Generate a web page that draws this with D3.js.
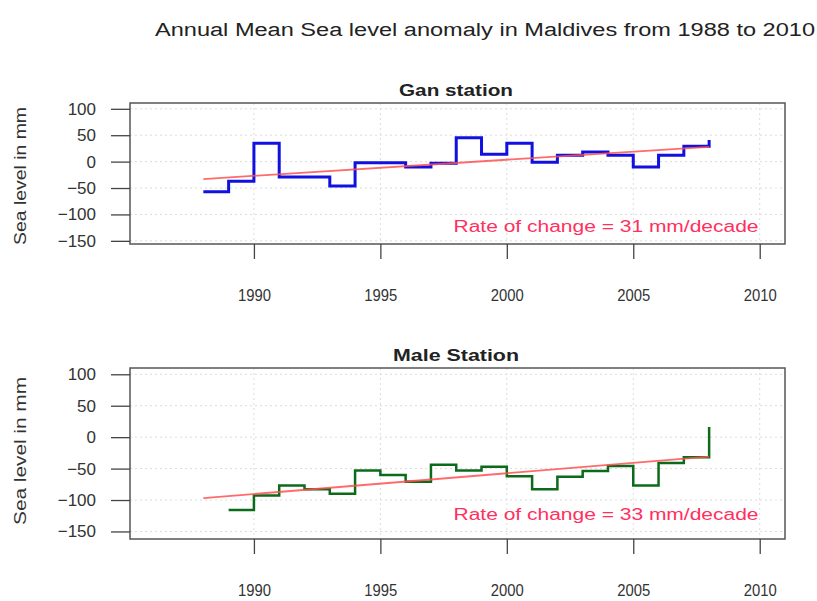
<!DOCTYPE html>
<html><head><meta charset="utf-8">
<script src="https://cdn.jsdelivr.net/npm/d3@7"></script>
<style>body{margin:0;background:#fff;} svg{display:block;font-family:"Liberation Sans",Arial,sans-serif;}</style>
</head><body>
<svg id="c" width="817" height="601"></svg>
<script>
// ---- data ----
const ganYears = [1988,1989,1990,1991,1992,1993,1994,1995,1996,1997,1998,1999,2000,2001,2002,2003,2004,2005,2006,2007,2008];
const ganLevel = [-57,-37,35,-29,-29,-46,-2,-2,-10,-3,45,14,35,-1,12,18,12,-10,12,29,41];
const ganTrendYears = [1988, 2008];
const ganTrend = [-33, 28];
const maleYears = [1989,1990,1991,1992,1993,1994,1995,1996,1997,1998,1999,2000,2001,2002,2003,2004,2005,2006,2007,2008];
const maleLevel = [-116,-93,-77,-83,-90,-53,-60,-71,-44,-53,-47,-62,-83,-63,-54,-46,-77,-41,-32,16];
const maleTrendYears = [1988, 2008];
const maleTrend = [-97, -31];
const xTicks = [1990,1995,2000,2005,2010];
const yTicks = [100,50,0,-50,-100,-150];

const FONT = '"Liberation Sans",Arial,sans-serif';
const svg = d3.select("#c");
svg.append("text").attr("x",485).attr("y",36).attr("text-anchor","middle")
  .attr("font-size",18).attr("fill","#222")
  .attr("textLength",660).attr("lengthAdjust","spacingAndGlyphs")
  .text("Annual Mean Sea level anomaly in Maldives from 1988 to 2010");

function panel(opt){
  const x = d3.scaleLinear().domain([1985.1,2011]).range([130,785]);
  const y = d3.scaleLinear().domain(opt.ydom).range([opt.bottom, opt.top]);
  const g = svg.append("g");
  // grid
  g.selectAll(".gx").data(xTicks).join("line")
    .attr("x1",d=>x(d)).attr("x2",d=>x(d)).attr("y1",opt.top).attr("y2",opt.bottom)
    .attr("stroke","#dcdcdc").attr("stroke-dasharray","2,3");
  g.selectAll(".gy").data(yTicks).join("line")
    .attr("x1",130).attr("x2",785).attr("y1",d=>y(d)).attr("y2",d=>y(d))
    .attr("stroke","#dcdcdc").attr("stroke-dasharray","2,3");
  // series
  const line = d3.line().x(d=>x(d[0])).y(d=>y(d[1])).curve(d3.curveStepAfter);
  g.append("path").datum(opt.years.map((d,i)=>[d,opt.vals[i]]))
    .attr("d",line).attr("fill","none").attr("stroke",opt.color).attr("stroke-width",opt.sw);
  const tl = d3.line().x(d=>x(d[0])).y(d=>y(d[1]));
  g.append("path").datum(opt.tyears.map((d,i)=>[d,opt.tvals[i]]))
    .attr("d",tl).attr("fill","none").attr("stroke","#ff5050").attr("stroke-width",1.8).attr("opacity",0.85);
  // box
  g.append("rect").attr("x",130).attr("y",opt.top).attr("width",655).attr("height",opt.bottom-opt.top)
    .attr("fill","none").attr("stroke","#555").attr("stroke-width",1.5);
  // axes
  const xa = g.append("g").attr("transform",`translate(0,${opt.bottom})`)
    .call(d3.axisBottom(x).tickValues(xTicks).tickFormat(d3.format("d")).tickSize(15).tickPadding(31));
  xa.select(".domain").remove();
  xa.selectAll("line").attr("stroke","#444").attr("stroke-width",1.3);
  xa.selectAll("text").attr("font-size",16).attr("fill","#333").attr("font-family",FONT)
    .attr("textLength",33).attr("lengthAdjust","spacingAndGlyphs");
  const ya = g.append("g").attr("transform","translate(130,0)")
    .call(d3.axisLeft(y).tickValues(yTicks).tickSize(19).tickPadding(15));
  ya.select(".domain").remove();
  ya.selectAll("line").attr("stroke","#444").attr("stroke-width",1.3);
  ya.selectAll("text").attr("font-size",17).attr("fill","#333").attr("font-family",FONT);
  g.append("text").attr("transform",`translate(26,${opt.ymid}) rotate(-90)`).attr("text-anchor","middle")
    .attr("font-size",16).attr("fill","#333")
    .attr("textLength",opt.ylen).attr("lengthAdjust","spacingAndGlyphs").text("Sea level in mm");
  g.append("text").attr("x",456).attr("y",opt.top-7).attr("text-anchor","middle")
    .attr("font-size",16).attr("font-weight","bold").attr("fill","#222")
    .attr("textLength",opt.tlen).attr("lengthAdjust","spacingAndGlyphs").text(opt.title);
  g.append("text").attr("x",606).attr("y",opt.ry).attr("text-anchor","middle")
    .attr("font-size",16).attr("fill","#ff3060")
    .attr("textLength",305).attr("lengthAdjust","spacingAndGlyphs").text(opt.rate);
}
panel({top:103,bottom:244,ydom:[-156,111],years:ganYears,vals:ganLevel,tyears:ganTrendYears,tvals:ganTrend,
  color:"#1010e0",sw:3,title:"Gan station",tlen:114,rate:"Rate of change = 31 mm/decade",ry:232,ymid:176,ylen:138});
panel({top:368,bottom:539,ydom:[-162,110],years:maleYears,vals:maleLevel,tyears:maleTrendYears,tvals:maleTrend,
  color:"#0b6b1a",sw:2.5,title:"Male Station",tlen:126,rate:"Rate of change = 33 mm/decade",ry:520,ymid:451,ylen:148});
</script>
</body></html>
